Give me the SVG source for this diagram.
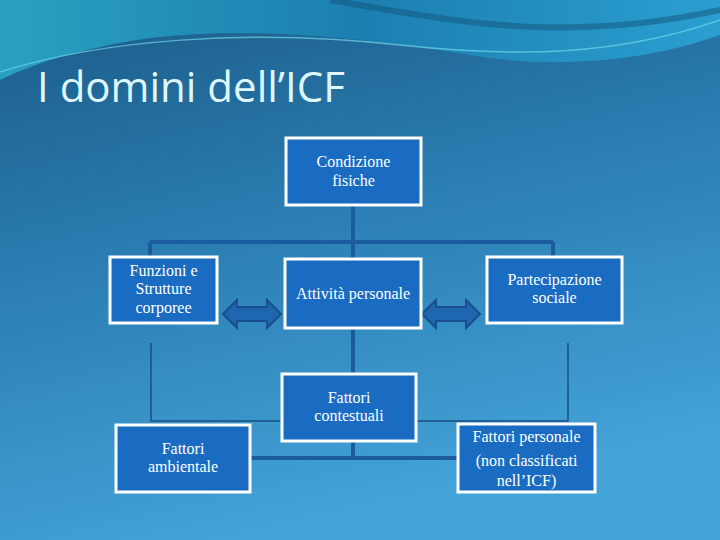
<svg xmlns="http://www.w3.org/2000/svg" width="720" height="540" viewBox="0 0 720 540">
<defs>
<linearGradient id="bg" x1="0" y1="0" x2="0.3" y2="1">
<stop offset="0" stop-color="#1b5a86"/>
<stop offset="0.5" stop-color="#2b7fb4"/>
<stop offset="1" stop-color="#43a2d6"/>
</linearGradient>
<linearGradient id="wave" x1="0" y1="0" x2="1" y2="0">
<stop offset="0" stop-color="#2aa0c0"/>
<stop offset="0.5" stop-color="#1b7fb0"/>
<stop offset="1" stop-color="#2a9fd0"/>
</linearGradient>
<style>
.box{fill:#1a6cc2;stroke:#fff;stroke-width:3}
.t{font-family:"Liberation Serif",serif;font-size:16px;fill:#fff;text-anchor:middle}
.thick{stroke:#1a5c9e;stroke-width:4;fill:none}
.thin{stroke:#1a4f80;stroke-width:1.5;fill:none}
.arr{fill:#1e66b0;stroke:#184f8c;stroke-width:2}
</style>
</defs>
<rect width="720" height="540" fill="url(#bg)"/>
<path d="M0,0 H720 V35 C650,60 560,70 470,55 C380,40 260,25 150,38 C80,48 30,65 0,80 Z" fill="url(#wave)"/>
<path d="M0,72 C100,40 250,28 400,45 C520,58 620,55 720,20" stroke="#6fd6e8" stroke-width="1.5" fill="none" opacity="0.7"/>
<path d="M330,0 C450,20 560,45 720,10" stroke="#14537a" stroke-width="6" fill="none" opacity="0.5"/>
<text x="37" y="102" font-family="Open Sans, Liberation Sans, sans-serif" font-size="42" fill="#dff8ff">I domini dell’ICF</text>
<g id="connectors">
<path class="thick" d="M353,205 V258 M150,242 H553 M150,242 V257 M553,242 V257 M353,328 V375 M250,458 H458 M353,441 V458"/>
<path class="thin" d="M151,343 V421 H282 M568,343 V421 H416"/>
<path class="arr" d="M223,314 L237,300 V307 H267 V300 L281,314 L267,328 V321 H237 V328 Z"/>
<path class="arr" d="M422,314 L436,300 V307 H466 V300 L480,314 L466,328 V321 H436 V328 Z"/>
</g>
<g id="condizione"><rect class="box" x="286" y="138" width="135" height="67"/><text class="t" x="353.5" y="167">Condizione</text><text class="t" x="353.5" y="186">fisiche</text></g>
<g id="funzioni"><rect class="box" x="110" y="257" width="107" height="66"/><text class="t" x="163.5" y="276">Funzioni e</text><text class="t" x="163.5" y="294">Strutture</text><text class="t" x="163.5" y="313">corporee</text></g>
<g id="attivita"><rect class="box" x="285" y="259" width="136" height="69"/><text class="t" x="353" y="299">Attività personale</text></g>
<g id="partecipazione"><rect class="box" x="487" y="257" width="135" height="66"/><text class="t" x="554.5" y="285">Partecipazione</text><text class="t" x="554.5" y="303">sociale</text></g>
<g id="contestuali"><rect class="box" x="282" y="374" width="134" height="67"/><text class="t" x="349" y="403">Fattori</text><text class="t" x="349" y="421">contestuali</text></g>
<g id="ambientale"><rect class="box" x="116" y="425" width="134" height="67"/><text class="t" x="183" y="454">Fattori</text><text class="t" x="183" y="472">ambientale</text></g>
<g id="personale"><rect class="box" x="458" y="424" width="137" height="68"/><text class="t" x="526.5" y="442">Fattori personale</text><text class="t" x="526.5" y="466">(non classificati</text><text class="t" x="526.5" y="486">nell’ICF)</text></g>
</svg>
